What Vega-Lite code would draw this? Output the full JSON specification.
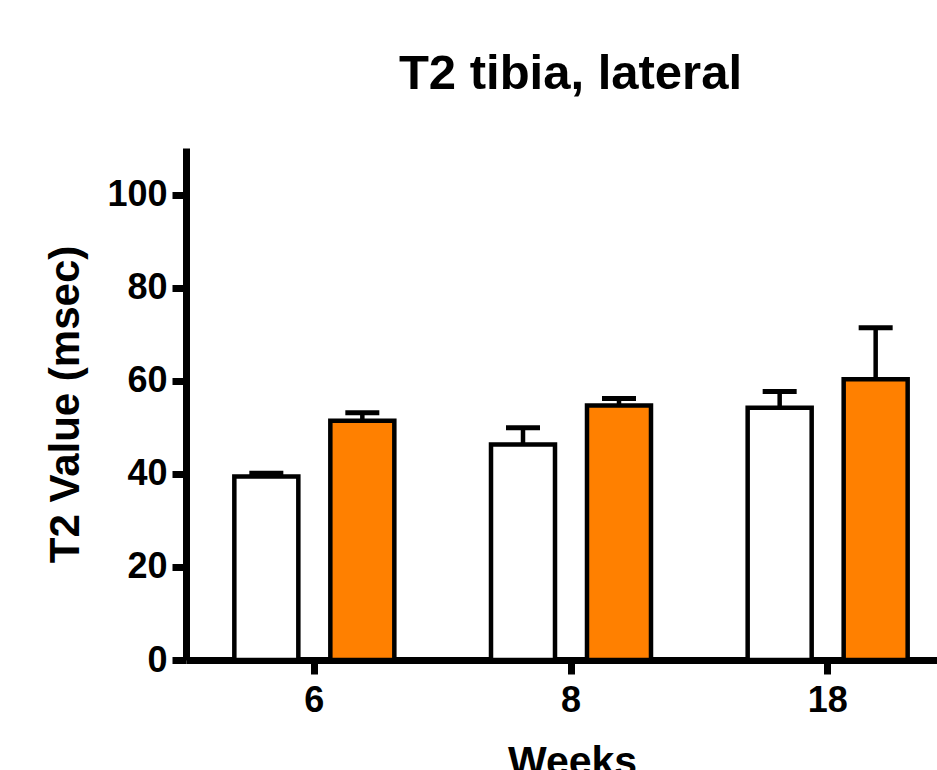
{
  "$schema": "https://vega.github.io/schema/vega-lite/v6.json",
  "autosize": {"type": "none"},
  "padding": {"left": 186, "top": 148, "right": 0, "bottom": 110},
  "width": 751,
  "height": 512,
  "background": "white",
  "config": {
    "view": {"stroke": null},
    "font": "Liberation Sans",
    "axis": {
      "grid": false,
      "domainColor": "black",
      "domainWidth": 7,
      "tickColor": "black",
      "tickWidth": 7,
      "tickSize": 14,
      "labelFont": "Liberation Sans",
      "labelFontSize": 36,
      "labelFontWeight": "bold",
      "labelColor": "black",
      "titleFont": "Liberation Sans",
      "titleFontWeight": "bold",
      "titleColor": "black"
    }
  },
  "title": {
    "text": "T2 tibia, lateral",
    "font": "Liberation Sans",
    "fontSize": 49,
    "fontWeight": "bold",
    "color": "black",
    "anchor": "middle",
    "baseline": "alphabetic",
    "dx": 9,
    "offset": 10
  },
  "data": {
    "values": [
      {"week": "6", "group": "Group 1", "value": 39.4, "upper": 40.1},
      {"week": "6", "group": "Group 2", "value": 51.4, "upper": 53.1},
      {"week": "8", "group": "Group 1", "value": 46.3, "upper": 49.9},
      {"week": "8", "group": "Group 2", "value": 54.7, "upper": 56.2},
      {"week": "18", "group": "Group 1", "value": 54.2, "upper": 57.7},
      {"week": "18", "group": "Group 2", "value": 60.3, "upper": 71.4}
    ]
  },
  "encoding": {
    "x": {
      "field": "week",
      "type": "nominal",
      "sort": ["6", "8", "18"],
      "scale": {"range": [0, 770], "paddingInner": 0, "paddingOuter": 0},
      "axis": {
        "title": "Weeks",
        "labelAngle": 0,
        "labelPadding": 9,
        "titleFontSize": 41,
        "titleX": 386,
        "titleY": 114,
        "titleBaseline": "alphabetic",
        "titleAlign": "center"
      }
    },
    "xOffset": {
      "field": "group",
      "type": "nominal",
      "scale": {"paddingInner": 0.3333, "paddingOuter": 0.5035}
    }
  },
  "layer": [
    {
      "mark": {"type": "bar", "stroke": "black", "strokeWidth": 4.5},
      "encoding": {
        "y": {
          "field": "value",
          "type": "quantitative",
          "scale": {"domain": [0, 110], "nice": false},
          "axis": {
            "title": "T2 Value (msec)",
            "values": [0, 20, 40, 60, 80, 100],
            "labelPadding": 5,
            "titleFontSize": 42,
            "titleAngle": -90,
            "titleX": -108,
            "titleY": 256,
            "titleBaseline": "alphabetic",
            "titleAlign": "center"
          }
        },
        "fill": {
          "field": "group",
          "type": "nominal",
          "scale": {"domain": ["Group 1", "Group 2"], "range": ["#FFFFFF", "#FF8000"]},
          "legend": null
        }
      }
    },
    {
      "mark": {"type": "rule", "color": "black", "strokeWidth": 4.5, "opacity": 1},
      "encoding": {
        "y": {"field": "value", "type": "quantitative"},
        "y2": {"field": "upper"}
      }
    },
    {
      "mark": {"type": "tick", "orient": "horizontal", "color": "black", "opacity": 1, "size": 34, "thickness": 5},
      "encoding": {
        "y": {"field": "upper", "type": "quantitative"}
      }
    }
  ]
}
